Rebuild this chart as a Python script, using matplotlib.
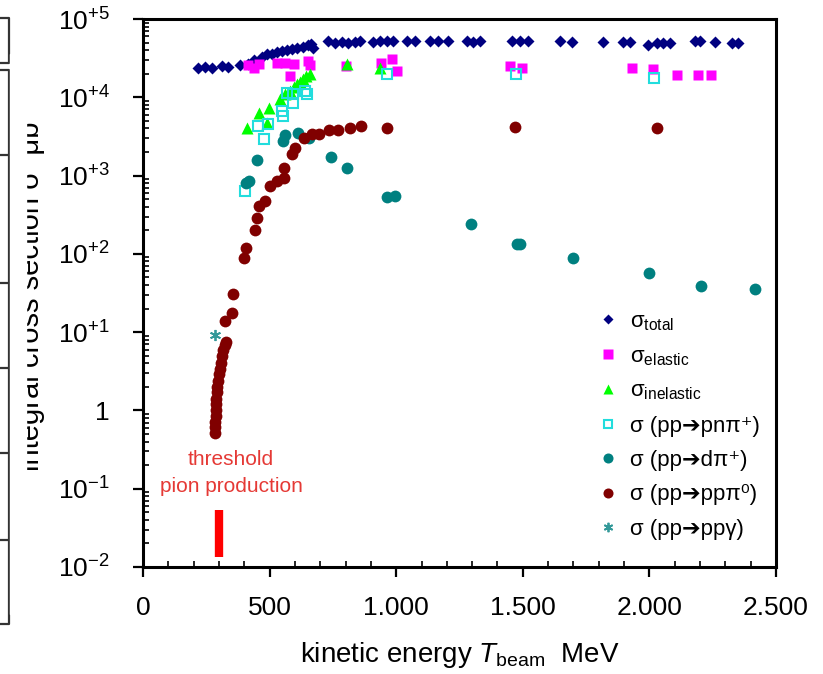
#!/usr/bin/env python3

import matplotlib

matplotlib.use("Agg")
import matplotlib.pyplot as plt
from matplotlib.lines import Line2D
from matplotlib.patches import Rectangle

# pp cross sections vs beam kinetic energy (MeV, microbarn)
total_x = [217, 245, 273, 312, 336, 383, 415, 440, 470, 490, 510, 530, 550, 570, 590, 610,
           630, 650, 665, 672, 731, 758, 786, 810, 837, 857, 909, 937, 964, 988, 1043, 1074,
           1134, 1165, 1205, 1280, 1304, 1331, 1457, 1489, 1520, 1647, 1695, 1817, 1896,
           1924, 1995, 2030, 2054, 2082, 2180, 2200, 2260, 2327, 2350]
total_y = [23500, 24500, 24000, 25000, 24500, 25500, 27000, 30000, 33000, 35500, 36000,
           37500, 38500, 40000, 41000, 42000, 44000, 46000, 48000, 43000, 52000, 50000,
           51000, 49000, 50500, 52000, 51000, 53000, 52500, 52000, 52000, 52000, 52000,
           52000, 52000, 53000, 51000, 52000, 52000, 52000, 52000, 52000, 51000, 51500,
           51000, 51000, 46500, 49500, 50000, 50000, 52000, 52000, 51000, 49000, 49000]

elastic_x = [415, 440, 460, 530, 560, 580, 595, 650, 660, 800, 940, 985, 1003, 1450, 1497,
             1930, 2015, 2110, 2190, 2245]
elastic_y = [26000, 24000, 27000, 27500, 27500, 18500, 27000, 29000, 26000, 25000, 27500,
             31000, 21500, 25000, 23500, 24000, 23000, 19500, 19500, 19500]

inelastic_x = [411, 458, 490, 498, 541, 560, 581, 595, 608, 620, 632, 645, 660, 806, 936]
inelastic_y = [4050, 6300, 4700, 7300, 9500, 11000, 12000, 13500, 14700, 15800, 17200,
               18500, 20000, 27000, 23700]

pnpi_x = [403, 454, 478, 494, 549, 553, 569, 593, 593, 640, 648, 964, 1473, 2018]
pnpi_y = [640, 4300, 2950, 4600, 6700, 5800, 11400, 8500, 11000, 12000, 11000, 20000,
          20000, 17700]

dpi_x = [407, 418, 450, 553, 561, 612, 656, 743, 806, 964, 995, 1296, 1477, 1489, 1699,
         1999, 2204, 2417]
dpi_y = [810, 850, 1580, 2750, 3250, 3500, 3040, 1750, 1260, 525, 555, 243, 135, 135, 89,
         57, 39, 36]

pppi0_x = [284, 285, 286, 287, 288, 289, 290, 292, 294, 296, 300, 304, 308, 312, 316, 322,
           328, 324, 352, 356, 399, 407, 442, 450, 458, 482, 502, 529, 557, 557, 589, 600,
           636, 668, 695, 735, 770, 818, 861, 964, 1469, 2030]
pppi0_y = [0.52, 0.62, 0.72, 0.85, 1.0, 1.2, 1.4, 1.7, 2.0, 2.4, 2.9, 3.4, 4.0, 5.0, 6.0,
           6.8, 7.5, 13.7, 17.8, 31, 89, 120, 204, 289, 412, 478, 740, 850, 930, 1260, 1900,
           2260, 3040, 3400, 3400, 3800, 3800, 4050, 4300, 4000, 4200, 4050]

ppgamma_x = [284]
ppgamma_y = [9.1]

threshold_mev = 300
threshold_bar = (0.0135, 0.053)

x_ticks = [0, 500, 1000, 1500, 2000, 2500]
x_tick_labels = ["0", "500", "1.000", "1.500", "2.000", "2.500"]
y_ticks = [1e-2, 1e-1, 1, 1e1, 1e2, 1e3, 1e4, 1e5]
y_tick_labels = [r"10$^{\mathregular{-2}}$", r"10$^{\mathregular{-1}}$", r"1$\;\;\;\,$",
                 r"10$^{+1}$", r"10$^{+2}$", r"10$^{+3}$", r"10$^{+4}$", r"10$^{+5}$"]

W, H = 823, 674


def setup_fonts() -> None:
    plt.rcParams["font.family"] = ["Liberation Sans", "DejaVu Sans"]
    plt.rcParams["mathtext.fontset"] = "custom"
    plt.rcParams["mathtext.rm"] = "Liberation Sans"
    plt.rcParams["mathtext.it"] = "Liberation Sans:italic"
    plt.rcParams["mathtext.bf"] = "Liberation Sans:bold"


def draw_page_frame(fig: plt.Figure) -> None:
    """Cropped table boxes at the left edge of the original page."""
    def px_line(xs, ys):
        fig.add_artist(Line2D([x / W for x in xs], [1 - y / H for y in ys],
                              color="#333333", lw=1.6, transform=fig.transFigure))

    px_line([-5, 9, 9, -5], [18, 18, 63, 63])
    px_line([-5, 9, 9, -5], [70, 70, 624, 624])
    for y in [155, 283, 368, 453, 540]:
        px_line([-5, 9], [y, y])


def create_plot() -> plt.Figure:
    fig = plt.figure(figsize=(W / 100, H / 100), dpi=100)
    ax = fig.add_axes([143 / W, 1 - 567 / H, 633 / W, 548 / H])

    ax.plot(total_x, total_y, "D", ms=6.5, color="#000080", mec="none",
            label=r"σ$_{\mathregular{total}}$")
    ax.plot(elastic_x, elastic_y, "s", ms=7.8, color="#FF00FF", mec="none",
            label=r"σ$_{\mathregular{elastic}}$")
    ax.plot(inelastic_x, inelastic_y, "^", ms=8.5, color="#00FF00", mec="none",
            label=r"σ$_{\mathregular{inelastic}}$")
    ax.plot(pnpi_x, pnpi_y, "s", ms=7.5, mfc="none", mec="#22DDDD", mew=1.5,
            label="σ (pp➔pnπ⁺)")
    ax.plot(dpi_x, dpi_y, "o", ms=8.5, color="#008080", mec="none",
            label="σ (pp➔dπ⁺)")
    ax.plot(pppi0_x, pppi0_y, "o", ms=8.5, color="#800000", mec="none",
            label="σ (pp➔ppπ⁰)")
    ax.plot(ppgamma_x, ppgamma_y, marker=(6, 2, 0), ls="none", ms=8, color="#339999",
            mew=1.3, label="σ (pp➔ppγ)")

    ax.vlines(threshold_mev, *threshold_bar, colors="#FF0000", lw=6)
    ax.text(348, 0.16, "threshold\npion production", color="#E53935", fontsize=15,
            ha="center", va="center", linespacing=1.55)

    ax.set_yscale("log")
    ax.set_xlim(0, 2500)
    ax.set_ylim(1e-2, 1e5)
    ax.set_xticks(x_ticks, x_tick_labels)
    ax.set_xticks(range(0, 2501, 100), minor=True)
    ax.set_yticks(y_ticks, y_tick_labels)

    for side in ax.spines.values():
        side.set_linewidth(2.2)
    ax.tick_params(which="major", direction="out", length=7, width=1.6, labelsize=19,
                   pad=14)
    ax.tick_params(which="minor", direction="in", length=4, width=1.2)
    ax.tick_params(axis="y", which="major", pad=17)

    ax.set_xlabel(r"kinetic energy $T_{\mathregular{beam}}$  MeV", fontsize=20,
                  labelpad=14)
    fig.text(31.5 / W, 1 - 296 / H, "integral cross section σ  μb", rotation=90,
             ha="center", va="center", fontsize=21)
    fig.add_artist(Rectangle((10 / W, 60 / H), 15.5 / W, 560 / H, color="white",
                             transform=fig.transFigure, zorder=5))
    draw_page_frame(fig)

    ax.legend(loc="upper left", bbox_to_anchor=(597 / W, 1 - 311 / H),
              bbox_transform=fig.transFigure, frameon=False, fontsize=16,
              handlelength=1.0, handletextpad=0.5, labelspacing=0.6, borderpad=0,
              borderaxespad=0, numpoints=1, markerscale=0.85)
    return fig


def main() -> None:
    setup_fonts()
    fig = create_plot()
    fig.savefig("out.png", dpi=100)
    plt.close(fig)


if __name__ == "__main__":
    main()
